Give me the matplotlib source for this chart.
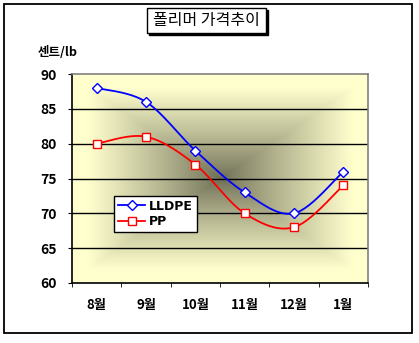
import numpy as np
import matplotlib
matplotlib.use('Agg')
import matplotlib.pyplot as plt
from matplotlib.patches import Rectangle

plt.rcParams['font.family'] = ['Noto Sans CJK KR', 'DejaVu Sans']

months = ['8월', '9월', '10월', '11월', '12월', '1월']
lldpe = [88, 86, 79, 73, 70, 76]
pp = [80, 81, 77, 70, 68, 74]
yticks = [60, 65, 70, 75, 80, 85, 90]


def smooth(xs, ys, n=30):
    # bezier smoothing like the spreadsheet "smoothed line" option
    xs = np.asarray(xs, float)
    ys = np.asarray(ys, float)
    px = np.concatenate([[xs[0]], xs, [xs[-1]]])
    py = np.concatenate([[ys[0]], ys, [ys[-1]]])
    ox, oy = [], []
    t = np.linspace(0, 1, n)
    for i in range(1, len(px) - 2):
        p0 = np.array([px[i], py[i]])
        p3 = np.array([px[i + 1], py[i + 1]])
        p1 = p0 + (np.array([px[i + 1], py[i + 1]]) - np.array([px[i - 1], py[i - 1]])) / 6
        p2 = p3 - (np.array([px[i + 2], py[i + 2]]) - np.array([px[i], py[i]])) / 6
        b = ((1 - t) ** 3)[:, None] * p0 + (3 * (1 - t) ** 2 * t)[:, None] * p1 \
            + (3 * (1 - t) * t ** 2)[:, None] * p2 + (t ** 3)[:, None] * p3
        ox.extend(b[:, 0])
        oy.extend(b[:, 1])
    return ox, oy


fig = plt.figure(figsize=(4.19, 3.43), dpi=100)
ax = fig.add_axes([72 / 419, 1 - 283 / 343, 296 / 419, 209 / 343])

# background gradient from the centre
u = np.linspace(-1, 1, 300)
v = np.linspace(-1, 1, 210)
U, V = np.meshgrid(u, v)
d = np.clip(np.maximum(np.abs(U) / 0.9, np.abs(V) / 0.88), 0, 1)
c_in = np.array([108, 108, 84]) / 255
c_out = np.array([255, 255, 206]) / 255
img = c_in + (c_out - c_in) * d[..., None] ** 0.85
ax.imshow(img, extent=[-0.5, 5.5, 60, 90], aspect='auto', zorder=0, origin='lower')

x = np.arange(len(months))
for yv in yticks[1:-1]:
    ax.axhline(yv, color='black', lw=1, zorder=1)

sx, sy = smooth(x, lldpe)
ax.plot(sx, sy, color='#0000ff', lw=1.3, zorder=3)
ax.plot(x, lldpe, ls='none', marker='D', ms=5, mfc='white', mec='#0000ff', mew=1, zorder=4)
sx, sy = smooth(x, pp)
ax.plot(sx, sy, color='#ff0000', lw=1.3, zorder=3)
ax.plot(x, pp, ls='none', marker='s', ms=5.5, mfc='white', mec='#ff0000', mew=1, zorder=4)

h1, = ax.plot([], [], color='#0000ff', lw=1.3, marker='D', ms=5, mfc='white', mec='#0000ff')
h2, = ax.plot([], [], color='#ff0000', lw=1.3, marker='s', ms=5.5, mfc='white', mec='#ff0000')
leg = ax.legend([h1, h2], ['LLDPE', 'PP'], loc='lower left', bbox_to_anchor=(0.142, 0.244),
                borderaxespad=0, fancybox=False, framealpha=1, edgecolor='black',
                prop={'weight': 'bold', 'size': 9, 'family': ['DejaVu Sans']},
                handlelength=2.2, handletextpad=0.3, borderpad=0.3, labelspacing=0.2)
leg.get_frame().set_linewidth(1)
leg.set_zorder(5)

ax.set_xlim(-0.5, 5.5)
ax.set_ylim(60, 90)
ax.set_yticks(yticks)
ax.set_yticklabels([str(t) for t in yticks], fontweight='bold', fontsize=10)
ax.set_xticks(x)
ax.set_xticklabels(months, fontweight='bold', fontsize=9.5)
ax.set_xticks(np.arange(-0.5, 6, 1), minor=True)
ax.tick_params(axis='x', which='major', length=0, pad=11)
ax.tick_params(axis='x', which='minor', length=3, direction='out')
ax.tick_params(axis='y', length=3, direction='out', pad=8)
for s in ['left', 'bottom']:
    ax.spines[s].set_color('black')
    ax.spines[s].set_linewidth(1.2)
for s in ['top', 'right']:
    ax.spines[s].set_color('#808080')
    ax.spines[s].set_linewidth(1.2)

# title box with shadow
W, H = 419, 343
fig.patches.append(Rectangle((149 / W, 1 - 35 / H), 119 / W, 25 / H, transform=fig.transFigure,
                             facecolor='black', edgecolor='black', zorder=1))
fig.patches.append(Rectangle((147 / W, 1 - 33 / H), 119 / W, 25 / H, transform=fig.transFigure,
                             facecolor='white', edgecolor='black', lw=1, zorder=2))
fig.text(206.5 / W, 1 - 21 / H, '폴리머 가격추이', ha='center', va='center', fontsize=11.5, zorder=3)
fig.text(38 / W, 1 - 52 / H, '센트/lb', ha='left', va='center', fontsize=9, fontweight='bold')

# outer border
fig.patches.append(Rectangle((4 / W, 1 - 333 / H), 408 / W, 329 / H, transform=fig.transFigure,
                             facecolor='none', edgecolor='black', lw=1.3))

fig.savefig('out.png', dpi=100)
